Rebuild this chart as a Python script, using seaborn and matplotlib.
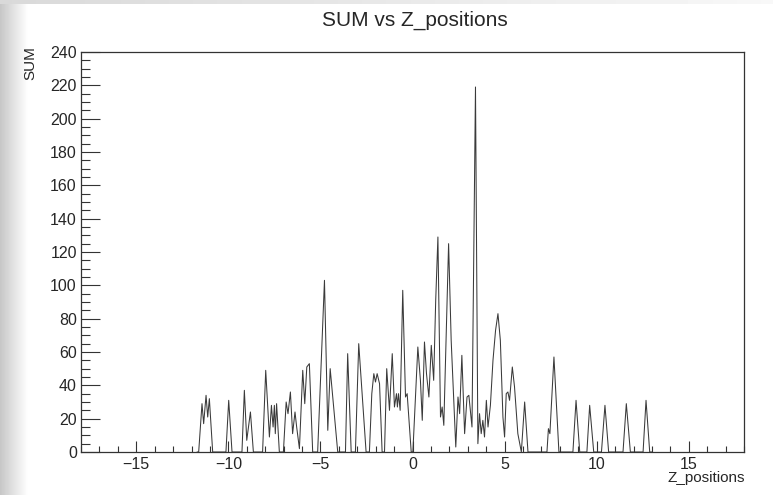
import numpy as np
import pandas as pd
import matplotlib
matplotlib.use("Agg")
import matplotlib.pyplot as plt
from matplotlib.ticker import MultipleLocator
import seaborn as sns

# ---- data ----
z_positions = [
    -11.70, -11.61, -11.43, -11.34, -11.21, -11.12, -11.03, -10.85,
    -10.13, -9.98, -9.80,
    -9.26, -9.13, -9.00, -8.80, -8.64,
    -8.14, -7.97, -7.77, -7.66, -7.57, -7.50, -7.45, -7.38, -7.23,
    -7.01, -6.86, -6.76, -6.63, -6.51, -6.38, -6.29, -6.14,
    -5.96, -5.85, -5.74, -5.60, -5.42,
    -5.15, -4.78, -4.60, -4.47, -4.06,
    -3.64, -3.52, -3.33,
    -3.10, -2.92, -2.52,
    -2.34, -2.21, -2.10, -2.01, -1.92, -1.79, -1.65,
    -1.52, -1.40, -1.25, -1.10, -0.98, -0.87, -0.82, -0.76, -0.67, -0.53, -0.38, -0.29, -0.07,
    0.02, 0.29, 0.43, 0.53, 0.65, 0.76, 0.89, 1.02, 1.15, 1.26, 1.38, 1.52, 1.61, 1.70,
    1.96, 2.10, 2.35, 2.47, 2.56, 2.68, 2.83, 2.96, 3.06, 3.23,
    3.42, 3.55, 3.64, 3.73, 3.82, 3.91, 4.01, 4.10, 4.23,
    4.37, 4.51, 4.64, 4.77, 4.91, 5.00, 5.09, 5.18, 5.27, 5.42, 5.54, 5.72, 5.91,
    6.09, 6.27,
    7.30, 7.38, 7.46, 7.68, 7.95,
    8.71, 8.88, 9.08,
    9.47, 9.62, 9.84,
    10.26, 10.45, 10.65,
    11.43, 11.61, 11.83,
    12.52, 12.68, 12.88, 13.00,
]
sum_values = [
    0, 0, 29, 17, 34, 21, 32, 0,
    0, 31, 0,
    0, 37, 7, 24, 0,
    0, 49, 9, 28, 15, 28, 11, 29, 0,
    0, 30, 23, 36, 11, 24, 15, 2,
    49, 29, 51, 53, 0,
    0, 103, 13, 50, 0,
    0, 59, 0,
    0, 65, 0,
    0, 35, 47, 42, 47, 41, 0,
    0, 50, 25, 59, 27, 35, 27, 35, 25, 97, 33, 35, 0,
    0, 63, 43, 19, 66, 47, 33, 64, 43, 91, 129, 21, 27, 16,
    125, 67, 3, 33, 23, 58, 11, 33, 34, 15,
    219, 5, 23, 11, 19, 9, 31, 15, 28,
    55, 73, 83, 67, 21, 9, 35, 36, 31, 51, 39, 11, 0,
    30, 0,
    0, 14, 11, 57, 0,
    0, 31, 0,
    0, 28, 0,
    0, 28, 0,
    0, 29, 0,
    0, 31, 0, 0,
]
title_text = "SUM vs Z_positions"
x_label = "Z_positions"
y_label = "SUM"

df = pd.DataFrame({"Z_positions": z_positions, "SUM": sum_values})

sns.set_style("white")
plt.rcParams["font.family"] = ["Liberation Sans", "DejaVu Sans"]

W, H = 773, 495
fig = plt.figure(figsize=(W / 100, H / 100), dpi=100)

# left-edge grey shading (screenshot frame)
bg = fig.add_axes([0, 0, 28 / W, 1])
grad = np.linspace(0.78, 1.0, 64).reshape(1, -1)
bg.imshow(grad, cmap="gray", vmin=0, vmax=1, aspect="auto", extent=[0, 1, 0, 1])
bg.set_axis_off()
top = fig.add_axes([0, 1 - 4 / H, 1, 4 / H])
top.imshow(np.linspace(0.85, 0.97, 64).reshape(1, -1), cmap="gray", vmin=0, vmax=1,
           aspect="auto", extent=[0, 1, 0, 1])
top.set_axis_off()

left, right, ytop, ybot = 81, 744, 52, 452
ax = fig.add_axes([left / W, 1 - ybot / H, (right - left) / W, (ybot - ytop) / H])

sns.lineplot(data=df, x="Z_positions", y="SUM", ax=ax, color="#3a3a3a",
             linewidth=0.75, estimator=None, sort=False)

ax.set_xlim(-18, 18)
ax.set_ylim(0, 240)
ax.xaxis.set_major_locator(MultipleLocator(5))
ax.xaxis.set_minor_locator(MultipleLocator(1))
ax.yaxis.set_major_locator(MultipleLocator(20))
ax.yaxis.set_minor_locator(MultipleLocator(5))

ax.tick_params(axis="x", which="major", direction="in", length=8, width=0.8,
               color="#333333", labelsize=11.5, pad=3.5, top=False, bottom=True)
ax.tick_params(axis="x", which="minor", direction="in", length=4, width=0.8,
               color="#333333", top=False, bottom=True)
ax.tick_params(axis="y", which="major", direction="in", length=13.5, width=0.8,
               color="#333333", labelsize=11.5, pad=3, right=False, left=True)
ax.tick_params(axis="y", which="minor", direction="in", length=6.7, width=0.8,
               color="#333333", right=False, left=True)

for s in ax.spines.values():
    s.set_color("#333333")
    s.set_linewidth(0.9)

ax.set_xlabel("")
ax.set_ylabel("")
fig.text(745 / W, 1 - 478 / H, x_label, ha="right", va="center", fontsize=11)
fig.text(30 / W, 1 - 63 / H, y_label, rotation=90, ha="center", va="center", fontsize=11)
fig.text(415 / W, 1 - 20 / H, title_text, ha="center", va="center", fontsize=15)

fig.savefig("out.png", dpi=100, facecolor="white")
